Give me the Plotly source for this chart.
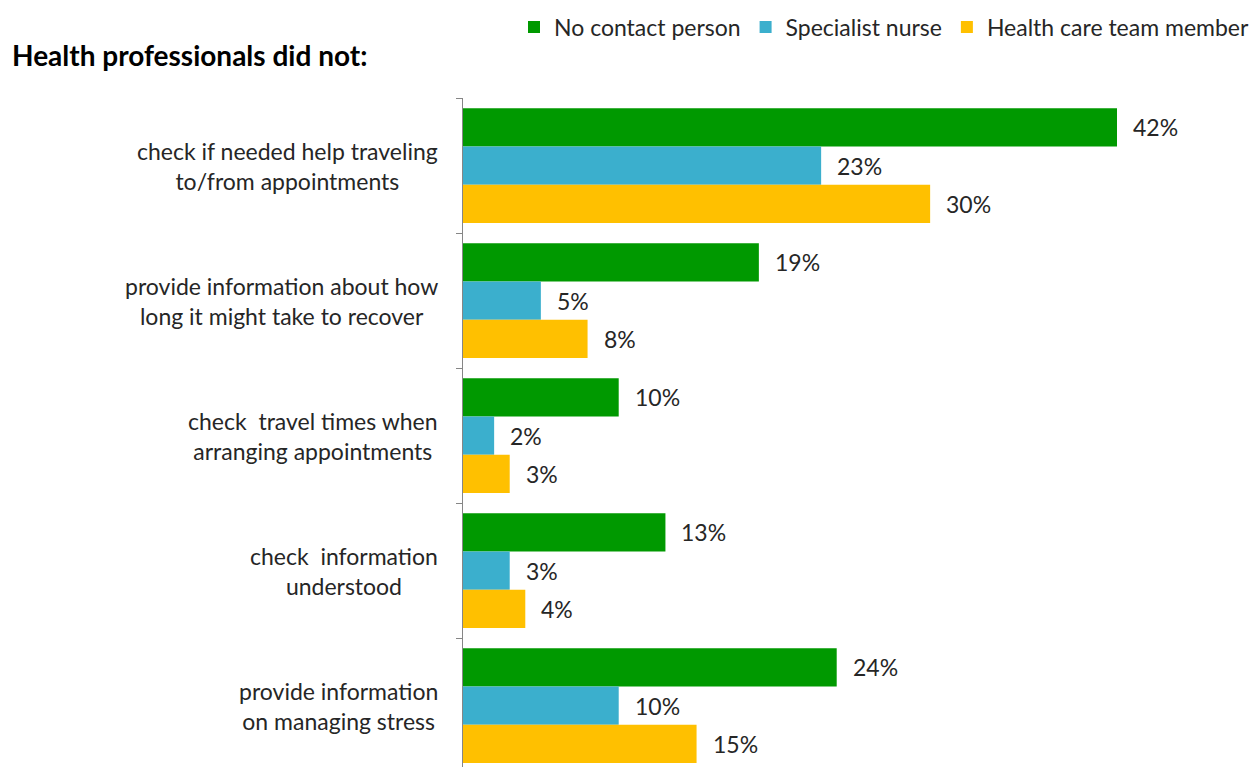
import plotly.graph_objects as go

# Survey data: share of respondents by contact type
categories = [
    "check if needed help traveling<br>to/from appointments",
    "provide information about how<br>long it might take to recover",
    "check  travel times when<br>arranging appointments",
    "check  information<br>understood",
    "provide information<br>on managing stress",
]
series_names = ["No contact person", "Specialist nurse", "Health care team member"]
no_contact = [42, 19, 10, 13, 24]
specialist_nurse = [23, 5, 2, 3, 10]
care_team = [30, 8, 3, 4, 15]
colors = ["#009900", "#3BAFCD", "#FFC000"]

FONT = "Lato"
TEXT = "#262626"
values = [no_contact, specialist_nurse, care_team]
ypos = list(range(len(categories)))
BARGAP = 0.15

# plot-area geometry in pixels
W, H = 1255, 767
L, R, T = 463, 55, 98
PW, PH = W - L - R, H - T
PX_PER_PCT = (1117 - L) / 42


def px_x(px):
    return (px - L) / PW


def px_y(py):
    return (H - py) / PH


fig = go.Figure()
for name, vals, col in zip(series_names, values, colors):
    fig.add_trace(go.Bar(
        y=ypos, x=vals, name=name, orientation="h",
        marker=dict(color=col, line=dict(width=0)),
        hoverinfo="x+name",
    ))

# value labels beside each bar
n = len(series_names)
slot = (1 - BARGAP) / n
annotations = []
for k, vals in enumerate(values):
    off = -(1 - BARGAP) / 2 + slot * (k + 0.5)
    for i, v in enumerate(vals):
        annotations.append(dict(
            x=v, y=i + off, xref="x", yref="y", text=f"{v}%",
            showarrow=False, xanchor="left", yanchor="middle", xshift=14,
            font=dict(family=FONT, size=23, color=TEXT),
        ))

# two-line category labels left of the axis, centred within each block
for i, label in enumerate(categories):
    annotations.append(dict(
        x=px_x(440), xref="paper", y=i, yref="y", text=label,
        showarrow=False, xanchor="right", yanchor="middle", align="center",
        font=dict(family=FONT, size=23, color=TEXT),
    ))

annotations.append(dict(
    x=px_x(10), y=px_y(55), xref="paper", yref="paper",
    text="<b>Health professionals did not:</b>",
    showarrow=False, xanchor="left", yanchor="middle",
    font=dict(family=FONT, size=28, color="#000000"),
))

fig.update_layout(
    width=W, height=H,
    margin=dict(l=L, r=R, t=T, b=0, autoexpand=False),
    paper_bgcolor="white", plot_bgcolor="white",
    barmode="group", bargap=BARGAP, bargroupgap=0,
    font=dict(family=FONT, size=23, color=TEXT),
    showlegend=True,
    legend=dict(
        orientation="h", x=px_x(1254), xanchor="right", y=px_y(27), yanchor="middle",
        font=dict(family=FONT, size=23, color=TEXT),
        itemwidth=30, traceorder="normal",
    ),
    annotations=annotations,
    xaxis=dict(
        range=[0, PW / PX_PER_PCT],
        showgrid=False, zeroline=False, showticklabels=False, showline=False,
    ),
    yaxis=dict(
        range=[-0.5 + PH / 135.0, -0.5],
        tickvals=[i - 0.5 for i in range(len(categories) + 1)],
        ticktext=[""] * (len(categories) + 1),
        ticks="outside", ticklen=6, tickcolor="#868686", tickwidth=1,
        showline=True, linecolor="#868686", linewidth=1,
        showgrid=False, zeroline=False,
    ),
)

fig.write_html("out.html")
